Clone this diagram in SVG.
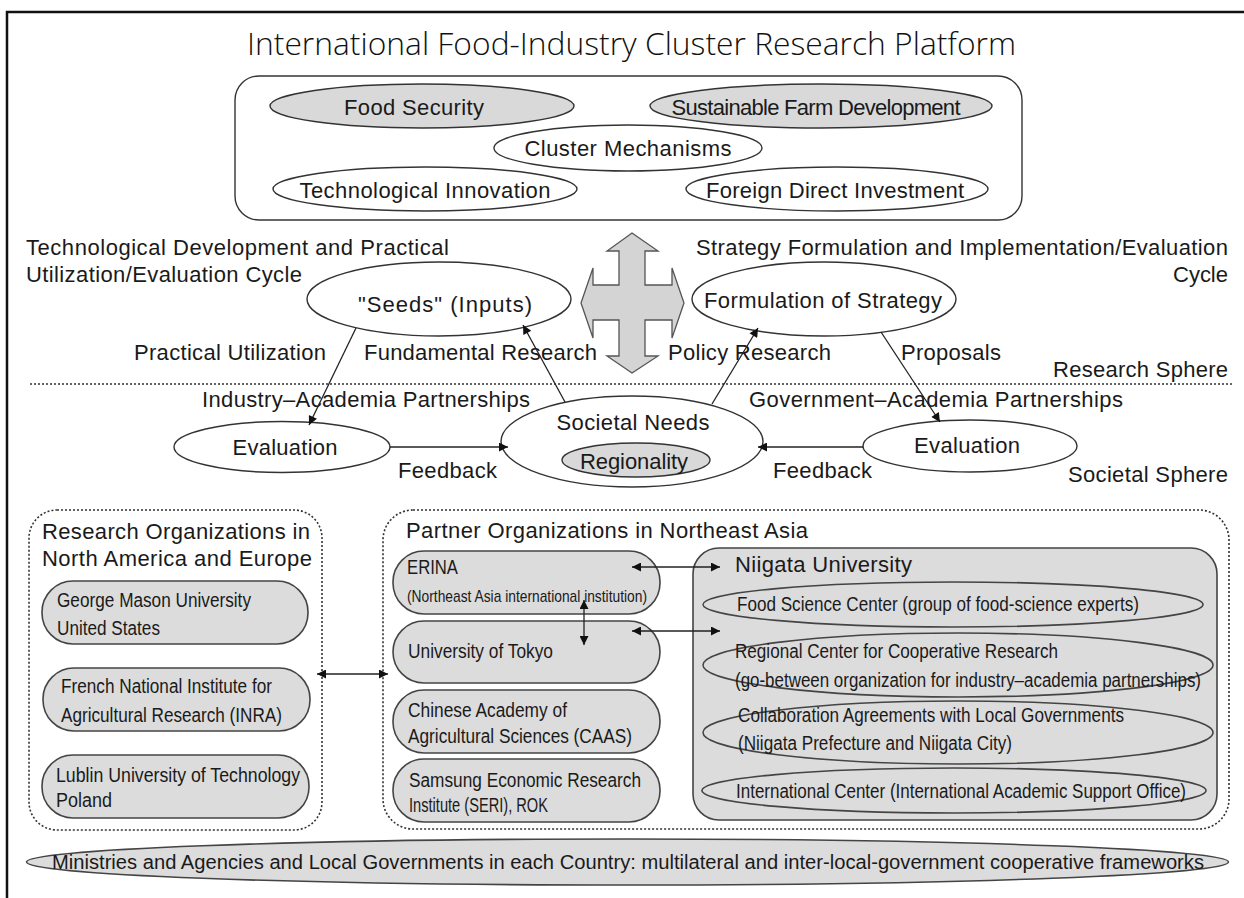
<svg xmlns="http://www.w3.org/2000/svg" width="1244" height="898" viewBox="0 0 1244 898">
<defs>
<style>
text{font-family:"Liberation Sans",Arial,sans-serif;fill:#1a1a1a;}
.t{font-size:22px;}
.c{text-anchor:middle;}
.e{text-anchor:end;}
.b{font-size:20px;}
.s{font-size:17px;}
.title{font-family:"Open Sans","Noto Sans",sans-serif;font-weight:300;font-size:31px;fill:#111;}
.w{fill:#fff;stroke:#333;stroke-width:1.4;}
.g{fill:#d9d9d9;stroke:#333;stroke-width:1.4;}
.gb{fill:#dcdcdc;stroke:#444;stroke-width:1.6;}
.dot{fill:none;stroke:#333;stroke-width:1.6;stroke-dasharray:2 2;}
.ln{fill:none;stroke:#222;stroke-width:1.3;}
</style>
<marker id="ah" viewBox="0 0 10 10" refX="10" refY="5" markerWidth="11" markerHeight="9" markerUnits="userSpaceOnUse" orient="auto-start-reverse">
<path d="M0,0 L10,5 L0,10 Z" fill="#111"/>
</marker>
</defs>
<rect width="1244" height="898" fill="#fff"/>
<path d="M7,898 V12 H1244" fill="none" stroke="#111" stroke-width="2.5"/>

<g id="platform">
<text class="title" x="247" y="55" textLength="769" lengthAdjust="spacingAndGlyphs">International Food-Industry Cluster Research Platform</text>
<rect class="w" x="235" y="76" width="787" height="144" rx="24"/>
</g>
<g id="food-security"><ellipse class="g" cx="422" cy="106" rx="152" ry="22"/><text class="t c" x="414" y="115" textLength="140">Food Security</text></g>
<g id="sustainable-farm"><ellipse class="g" cx="821" cy="106" rx="171" ry="22"/><text class="t c" x="816" y="115" textLength="289">Sustainable Farm Development</text></g>
<g id="cluster-mechanisms"><ellipse class="w" cx="628" cy="148" rx="134" ry="23"/><text class="t c" x="628" y="156" textLength="207">Cluster Mechanisms</text></g>
<g id="tech-innovation"><ellipse class="w" cx="425" cy="189" rx="152" ry="22"/><text class="t c" x="425" y="198" textLength="251">Technological Innovation</text></g>
<g id="fdi"><ellipse class="w" cx="837" cy="189" rx="151" ry="22"/><text class="t c" x="835" y="198" textLength="258">Foreign Direct Investment</text></g>

<g id="four-way-arrow">
<polygon points="632,233 658,251 645,251 645,285 672,285 672,268 684,303 672,338 672,320 645,320 645,356 658,356 632,373 607,356 619,356 619,320 593,320 593,338 581,303 593,268 593,285 619,285 619,251 607,251" fill="#d4d4d4" stroke="#555" stroke-width="1.3"/>
</g>

<g id="labels">
<text class="t" x="26" y="255" textLength="423">Technological Development and Practical</text>
<text class="t" x="26" y="282" textLength="276">Utilization/Evaluation Cycle</text>
<text class="t e" x="1228" y="255" textLength="532">Strategy Formulation and Implementation/Evaluation</text>
<text class="t e" x="1228" y="282" textLength="55">Cycle</text>
<text class="t" x="134" y="360" textLength="192">Practical Utilization</text>
<text class="t" x="364" y="360" textLength="233">Fundamental Research</text>
<text class="t" x="668" y="360" textLength="163">Policy Research</text>
<text class="t" x="901" y="360" textLength="100">Proposals</text>
<text class="t e" x="1228" y="377" textLength="175">Research Sphere</text>
<text class="t" x="202" y="407" textLength="328">Industry–Academia Partnerships</text>
<text class="t" x="749" y="407" textLength="374">Government–Academia Partnerships</text>
<text class="t" x="398" y="478" textLength="99">Feedback</text>
<text class="t" x="773" y="478" textLength="99">Feedback</text>
<text class="t e" x="1228" y="482" textLength="160">Societal Sphere</text>
</g>
<path id="sphere-divider" d="M30,384 H1233" class="dot"/>

<g id="seeds"><ellipse class="w" cx="439" cy="299" rx="132" ry="37"/><text class="t c" x="445" y="312" textLength="174">"Seeds" (Inputs)</text></g>
<g id="formulation"><ellipse class="w" cx="824" cy="299" rx="132" ry="37"/><text class="t c" x="823" y="308" textLength="238">Formulation of Strategy</text></g>
<g id="eval-left"><ellipse class="w" cx="282" cy="447" rx="108" ry="25.5"/><text class="t c" x="285" y="455" textLength="105">Evaluation</text></g>
<g id="eval-right"><ellipse class="w" cx="970" cy="446" rx="107" ry="26"/><text class="t c" x="967" y="453" textLength="106">Evaluation</text></g>
<g id="societal-needs"><ellipse class="w" cx="632" cy="441.5" rx="131" ry="45.5"/><text class="t c" x="633" y="430" textLength="153">Societal Needs</text>
<ellipse class="g" cx="636" cy="460" rx="74" ry="17"/><text class="t c" x="634" y="469" textLength="108">Regionality</text></g>

<g id="na-europe">
<rect class="dot" x="29" y="510" width="293" height="320" rx="28"/>
<text class="t" x="42" y="539" textLength="268">Research Organizations in</text>
<text class="t" x="42" y="566" textLength="270">North America and Europe</text>
</g>
<g id="gmu"><rect class="gb" x="42" y="581" width="266" height="63" rx="31"/><text class="b" x="57" y="607" textLength="194" lengthAdjust="spacingAndGlyphs">George Mason University</text><text class="b" x="57" y="635" textLength="103" lengthAdjust="spacingAndGlyphs">United States</text></g>
<g id="inra"><rect class="gb" x="43" y="668" width="267" height="63" rx="31"/><text class="b" x="61" y="693" textLength="211" lengthAdjust="spacingAndGlyphs">French National Institute for</text><text class="b" x="61" y="722" textLength="221" lengthAdjust="spacingAndGlyphs">Agricultural Research (INRA)</text></g>
<g id="lublin"><rect class="gb" x="42" y="755" width="267" height="63" rx="31"/><text class="b" x="56" y="782" textLength="244" lengthAdjust="spacingAndGlyphs">Lublin University of Technology</text><text class="b" x="56" y="807" textLength="56" lengthAdjust="spacingAndGlyphs">Poland</text></g>

<g id="ne-asia">
<rect class="dot" x="383" y="510" width="846" height="319" rx="30"/>
<text class="t" x="406" y="538" textLength="402">Partner Organizations in Northeast Asia</text>
</g>
<g id="erina"><rect class="gb" x="393" y="551" width="267" height="63" rx="31"/><text class="b" x="407" y="574" textLength="51" lengthAdjust="spacingAndGlyphs">ERINA</text><text class="s" x="407" y="602" textLength="240" lengthAdjust="spacingAndGlyphs">(Northeast Asia international institution)</text></g>
<g id="tokyo"><rect class="gb" x="393" y="621" width="267" height="62" rx="31"/><text class="b" x="408" y="658" textLength="145" lengthAdjust="spacingAndGlyphs">University of Tokyo</text></g>
<g id="caas"><rect class="gb" x="393" y="690" width="267" height="63" rx="31"/><text class="b" x="408" y="717" textLength="159" lengthAdjust="spacingAndGlyphs">Chinese Academy of</text><text class="b" x="408" y="743" textLength="224" lengthAdjust="spacingAndGlyphs">Agricultural Sciences (CAAS)</text></g>
<g id="seri"><rect class="gb" x="393" y="759" width="267" height="63" rx="31"/><text class="b" x="409" y="787" textLength="232" lengthAdjust="spacingAndGlyphs">Samsung Economic Research</text><text class="b" x="409" y="812" textLength="139" lengthAdjust="spacingAndGlyphs">Institute (SERI), ROK</text></g>

<g id="niigata">
<rect class="gb" x="693" y="548" width="524" height="272" rx="26"/>
<text class="t" x="735" y="572" textLength="177">Niigata University</text>
</g>
<g id="food-science"><ellipse class="gb" cx="953" cy="604.5" rx="250" ry="22.5"/><text class="b" x="737" y="611" textLength="402" lengthAdjust="spacingAndGlyphs">Food Science Center (group of food-science experts)</text></g>
<g id="regional-center"><ellipse class="gb" cx="958" cy="665" rx="255" ry="32"/><text class="b" x="735" y="658" textLength="323" lengthAdjust="spacingAndGlyphs">Regional Center for Cooperative Research</text><text class="b" x="735" y="687" textLength="466" lengthAdjust="spacingAndGlyphs">(go-between organization for industry–academia partnerships)</text></g>
<g id="collaboration"><ellipse class="gb" cx="958" cy="732.5" rx="255" ry="31.5"/><text class="b" x="738" y="722" textLength="386" lengthAdjust="spacingAndGlyphs">Collaboration Agreements with Local Governments</text><text class="b" x="738" y="750" textLength="274" lengthAdjust="spacingAndGlyphs">(Niigata Prefecture and Niigata City)</text></g>
<g id="intl-center"><ellipse class="gb" cx="954" cy="790.5" rx="252" ry="22.5"/><text class="b" x="736" y="798" textLength="450" lengthAdjust="spacingAndGlyphs">International Center (International Academic Support Office)</text></g>

<g id="ministries"><ellipse class="gb" cx="627.5" cy="862" rx="601" ry="23"/><text class="b" x="52" y="869" textLength="1152" lengthAdjust="spacingAndGlyphs">Ministries and Agencies and Local Governments in each Country: multilateral and inter-local-government cooperative frameworks</text></g>

<g id="connectors">
<path class="ln" d="M356,328 L309,425" marker-end="url(#ah)"/>
<path class="ln" d="M565,402 L523,325" marker-end="url(#ah)"/>
<path class="ln" d="M712,404 L758,328" marker-end="url(#ah)"/>
<path class="ln" d="M881,332 L940,422" marker-end="url(#ah)"/>
<path class="ln" d="M390,447 L508,447" marker-end="url(#ah)"/>
<path class="ln" d="M863,447 L758,447" marker-end="url(#ah)"/>
<path class="ln" d="M584,600 L584,645" marker-start="url(#ah)" marker-end="url(#ah)"/>
<path class="ln" d="M632,567 L720,567" marker-start="url(#ah)" marker-end="url(#ah)"/>
<path class="ln" d="M632,631 L720,631" marker-start="url(#ah)" marker-end="url(#ah)"/>
<path class="ln" d="M317,674 L388,674" marker-start="url(#ah)" marker-end="url(#ah)"/>
</g>
</svg>
